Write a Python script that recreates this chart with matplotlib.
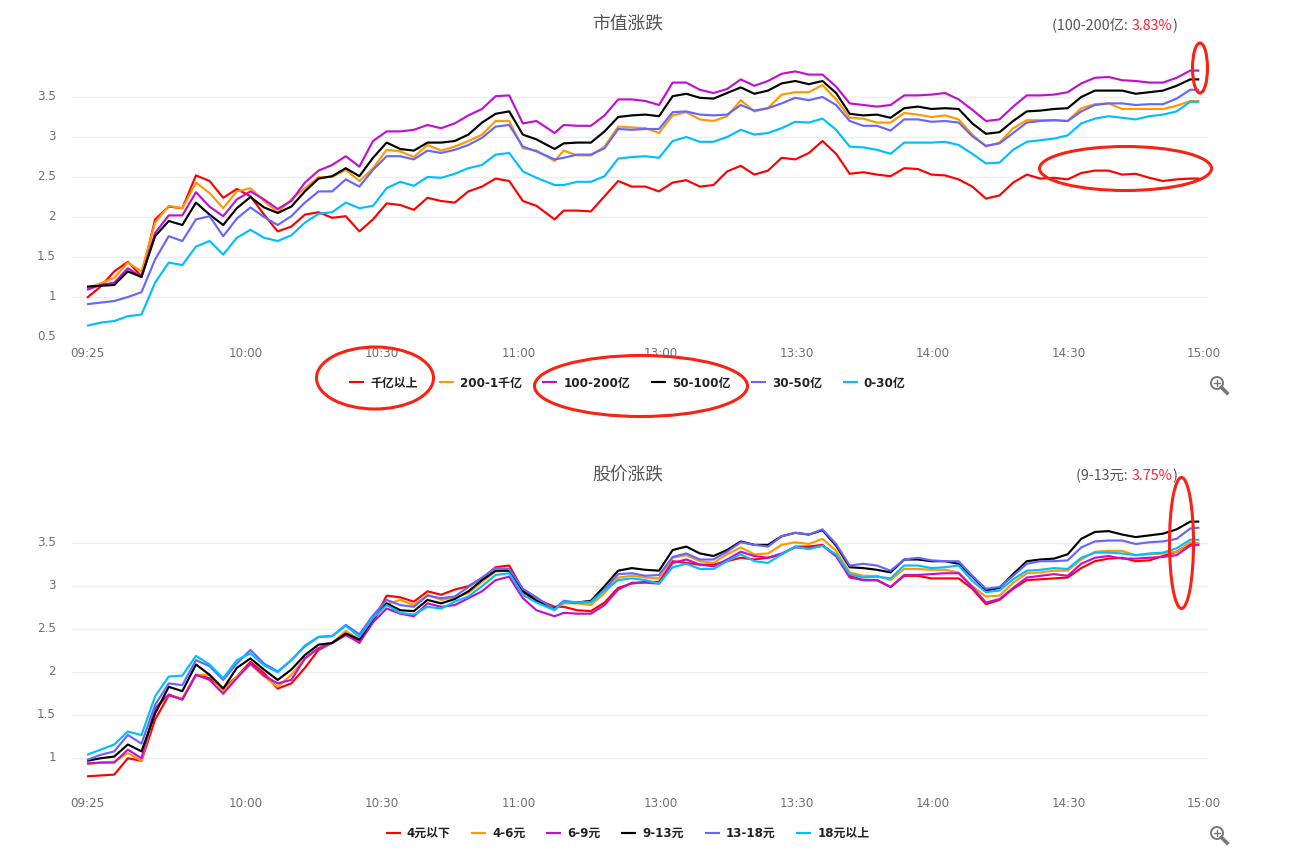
import matplotlib
matplotlib.use("Agg")
import matplotlib.pyplot as plt
from matplotlib.font_manager import FontProperties
from matplotlib.patches import Ellipse, Circle
from matplotlib.lines import Line2D
from matplotlib.transforms import ScaledTranslation

plt.rcParams['font.family'] = ['Noto Sans CJK SC', 'DejaVu Sans']

W, H = 1290, 857

# sample positions along the trading-minute axis
idx = list(range(0, 100, 3)) + [103] + list(range(105, 244, 3)) + [245]
tick_idx = [0, 35, 65, 95, 126.4, 156.4, 186.3, 216.3, 246]
tick_labels = ['09:25', '10:00', '10:30', '11:00', '13:00', '13:30', '14:00', '14:30', '15:00']
colors = ['#ff0000', '#ff9900', '#bf12d0', '#000000', '#6666ff', '#00bfff']

cap_names = ['千亿以上', '200-1千亿', '100-200亿', '50-100亿', '30-50亿', '0-30亿']
cap_red = [0.99,1.13,1.32,1.44,1.26,1.97,2.13,2.11,2.52,2.45,2.24,2.35,2.26,2.03,1.82,1.88,2.03,2.06,1.99,2.01,1.82,1.97,2.17,2.15,2.09,2.24,
 2.20,2.18,2.32,2.38,2.48,2.45,2.20,2.14,1.97,2.08,2.08,2.07,2.26,2.45,2.38,2.38,2.32,2.43,2.46,2.38,2.40,2.57,2.64,2.53,2.58,2.74,2.72,2.80,2.95,
 2.79,2.54,2.56,2.53,2.51,2.61,2.60,2.53,2.52,2.47,2.38,2.23,2.27,2.43,2.53,2.48,2.49,2.47,2.55,2.58,2.58,2.53,2.54,2.49,2.45,2.47,2.48,2.48]
cap_orange = [1.11,1.17,1.24,1.43,1.32,1.93,2.14,2.11,2.43,2.30,2.11,2.32,2.36,2.20,2.06,2.22,2.36,2.50,2.50,2.59,2.45,2.61,2.84,2.82,2.75,2.90,
 2.83,2.88,2.95,3.03,3.20,3.20,2.86,2.83,2.70,2.83,2.77,2.77,2.88,3.13,3.12,3.11,3.05,3.27,3.31,3.22,3.20,3.26,3.46,3.32,3.36,3.53,3.56,3.56,3.65,
 3.47,3.24,3.23,3.18,3.18,3.30,3.28,3.25,3.27,3.22,3.03,2.88,2.93,3.11,3.21,3.21,3.21,3.20,3.36,3.41,3.42,3.35,3.35,3.35,3.35,3.39,3.45,3.45]
cap_purple = [1.09,1.15,1.18,1.36,1.25,1.80,2.02,2.02,2.31,2.13,2.01,2.22,2.32,2.22,2.10,2.20,2.43,2.58,2.65,2.76,2.63,2.95,3.07,3.07,3.09,3.15,
 3.11,3.17,3.27,3.35,3.51,3.52,3.17,3.20,3.05,3.15,3.14,3.14,3.27,3.47,3.47,3.45,3.40,3.68,3.68,3.59,3.55,3.60,3.72,3.64,3.70,3.79,3.82,3.78,3.78,
 3.63,3.42,3.40,3.38,3.40,3.52,3.52,3.53,3.55,3.47,3.34,3.20,3.22,3.38,3.52,3.52,3.53,3.56,3.67,3.74,3.75,3.71,3.70,3.68,3.68,3.74,3.83,3.83]
cap_black = [1.13,1.14,1.15,1.32,1.25,1.76,1.95,1.90,2.18,2.03,1.90,2.11,2.25,2.12,2.05,2.13,2.32,2.48,2.51,2.61,2.51,2.74,2.93,2.85,2.83,2.93,
 2.93,2.95,3.03,3.18,3.29,3.32,3.03,2.97,2.85,2.92,2.93,2.93,3.07,3.25,3.27,3.28,3.26,3.51,3.54,3.49,3.48,3.55,3.62,3.54,3.58,3.67,3.70,3.66,3.70,
 3.55,3.29,3.27,3.28,3.24,3.36,3.38,3.35,3.36,3.35,3.17,3.04,3.06,3.20,3.32,3.33,3.35,3.36,3.50,3.58,3.58,3.58,3.54,3.56,3.58,3.64,3.72,3.72]
cap_blue = [0.91,0.93,0.95,1.00,1.06,1.47,1.76,1.70,1.97,2.01,1.76,1.98,2.12,2.00,1.90,2.01,2.18,2.32,2.32,2.47,2.38,2.59,2.76,2.76,2.72,2.83,
 2.80,2.84,2.90,2.99,3.13,3.15,2.88,2.82,2.72,2.74,2.78,2.78,2.86,3.10,3.09,3.10,3.10,3.31,3.32,3.28,3.27,3.28,3.40,3.33,3.36,3.42,3.49,3.46,3.50,
 3.40,3.20,3.14,3.14,3.08,3.22,3.22,3.19,3.20,3.18,3.01,2.89,2.92,3.05,3.18,3.20,3.21,3.20,3.32,3.40,3.42,3.42,3.40,3.41,3.41,3.48,3.59,3.59]
cap_cyan = [0.64,0.68,0.70,0.76,0.78,1.18,1.43,1.40,1.63,1.70,1.53,1.74,1.84,1.74,1.70,1.77,1.93,2.04,2.06,2.18,2.11,2.14,2.36,2.44,2.39,2.50,
 2.49,2.54,2.61,2.65,2.78,2.80,2.57,2.49,2.40,2.40,2.44,2.44,2.51,2.73,2.75,2.76,2.74,2.95,3.00,2.94,2.94,3.00,3.09,3.03,3.05,3.11,3.19,3.18,3.23,
 3.09,2.88,2.87,2.84,2.79,2.93,2.93,2.93,2.94,2.90,2.79,2.67,2.68,2.84,2.94,2.96,2.98,3.02,3.17,3.23,3.26,3.24,3.22,3.26,3.28,3.32,3.44,3.44]

px_names = ['4元以下', '4-6元', '6-9元', '9-13元', '13-18元', '18元以上']
px_red = [0.79,0.80,0.81,1.00,0.97,1.45,1.73,1.69,1.97,1.93,1.81,1.95,2.12,1.99,1.81,1.87,2.05,2.26,2.34,2.43,2.36,2.59,2.89,2.87,2.82,2.94,
 2.90,2.96,3.00,3.09,3.22,3.24,2.96,2.85,2.76,2.76,2.72,2.71,2.81,2.98,3.03,3.05,3.05,3.29,3.27,3.25,3.25,3.29,3.33,3.31,3.33,3.37,3.46,3.46,3.48,
 3.35,3.12,3.07,3.07,2.99,3.12,3.12,3.09,3.09,3.09,2.97,2.79,2.84,2.97,3.07,3.08,3.09,3.10,3.21,3.29,3.32,3.33,3.29,3.30,3.35,3.40,3.49,3.49]
px_orange = [0.93,0.95,0.96,1.06,0.97,1.56,1.74,1.69,1.97,1.97,1.78,1.95,2.09,1.95,1.83,1.97,2.16,2.28,2.34,2.48,2.38,2.65,2.79,2.84,2.78,2.90,
 2.84,2.87,2.92,3.05,3.17,3.18,2.92,2.84,2.74,2.80,2.80,2.78,2.92,3.10,3.12,3.10,3.09,3.33,3.36,3.29,3.27,3.37,3.45,3.37,3.38,3.48,3.51,3.49,3.55,
 3.41,3.16,3.12,3.12,3.07,3.20,3.20,3.19,3.19,3.16,3.00,2.88,2.89,3.04,3.15,3.16,3.18,3.18,3.31,3.40,3.41,3.41,3.36,3.37,3.38,3.40,3.51,3.50]
px_purple = [0.94,0.95,0.95,1.10,1.00,1.58,1.74,1.68,1.97,1.91,1.75,1.93,2.10,1.96,1.87,1.91,2.16,2.28,2.34,2.44,2.34,2.58,2.74,2.68,2.65,2.80,
 2.76,2.78,2.86,2.94,3.07,3.11,2.86,2.72,2.65,2.69,2.68,2.68,2.78,2.96,3.04,3.04,3.03,3.27,3.31,3.25,3.23,3.31,3.40,3.35,3.33,3.38,3.45,3.44,3.47,
 3.35,3.10,3.07,3.07,2.99,3.13,3.13,3.14,3.15,3.15,2.99,2.81,2.85,2.98,3.10,3.12,3.14,3.12,3.26,3.33,3.35,3.32,3.32,3.33,3.34,3.36,3.47,3.48]
px_black = [0.97,1.00,1.02,1.16,1.08,1.52,1.83,1.78,2.09,1.97,1.81,2.05,2.16,2.03,1.91,2.03,2.20,2.32,2.34,2.45,2.38,2.62,2.80,2.72,2.71,2.84,
 2.80,2.85,2.94,3.07,3.18,3.18,2.94,2.83,2.74,2.82,2.81,2.83,3.00,3.18,3.21,3.19,3.18,3.42,3.46,3.38,3.35,3.42,3.52,3.48,3.48,3.58,3.62,3.60,3.65,
 3.47,3.22,3.21,3.19,3.16,3.31,3.31,3.29,3.29,3.26,3.11,2.95,2.98,3.14,3.29,3.31,3.32,3.37,3.55,3.63,3.64,3.60,3.57,3.59,3.61,3.66,3.75,3.75]
px_blue = [0.98,1.04,1.08,1.27,1.17,1.62,1.87,1.85,2.14,2.07,1.91,2.10,2.26,2.10,2.01,2.14,2.30,2.41,2.42,2.55,2.44,2.66,2.84,2.78,2.76,2.89,
 2.86,2.88,2.99,3.10,3.21,3.20,2.97,2.87,2.73,2.83,2.81,2.82,2.96,3.14,3.15,3.12,3.13,3.34,3.38,3.31,3.31,3.40,3.51,3.48,3.46,3.58,3.62,3.60,3.66,
 3.49,3.24,3.26,3.24,3.18,3.31,3.33,3.30,3.29,3.29,3.12,2.97,2.99,3.12,3.26,3.29,3.29,3.30,3.45,3.52,3.53,3.53,3.49,3.51,3.52,3.55,3.67,3.68]
px_cyan = [1.04,1.10,1.16,1.31,1.27,1.72,1.95,1.96,2.19,2.09,1.93,2.14,2.22,2.08,2.00,2.14,2.31,2.41,2.42,2.54,2.41,2.63,2.78,2.69,2.67,2.76,
 2.74,2.82,2.88,3.00,3.13,3.15,2.90,2.81,2.72,2.82,2.81,2.81,2.95,3.07,3.09,3.07,3.03,3.22,3.26,3.20,3.20,3.29,3.37,3.29,3.27,3.37,3.46,3.43,3.47,
 3.37,3.14,3.10,3.11,3.09,3.24,3.24,3.21,3.22,3.24,3.06,2.93,2.95,3.08,3.18,3.19,3.21,3.20,3.33,3.39,3.39,3.38,3.36,3.38,3.39,3.44,3.54,3.54]

cap_series = [cap_red, cap_orange, cap_purple, cap_black, cap_blue, cap_cyan]
px_series = [px_red, px_orange, px_purple, px_black, px_blue, px_cyan]

fig = plt.figure(figsize=(W / 100, H / 100), dpi=100, facecolor='white')


def make_axes(top_px, bottom_px):
    return fig.add_axes([72 / W, 1 - bottom_px / H, (1208 - 72) / W, (bottom_px - top_px) / H])


def draw(ax, series, names, ylim, yticks, ytlabels, legend_y):
    handles = []
    for vals, name, c in zip(series, names, colors):
        h, = ax.plot(idx, vals, color=c, lw=1.55, solid_joinstyle='round', solid_capstyle='butt', label=name)
        handles.append(h)
    ax.set_xlim((72 - 87) / 4.54, (1208 - 87) / 4.54)
    ax.set_ylim(*ylim)
    ax.set_yticks(yticks)
    ax.set_yticklabels(ytlabels)
    ax.set_xticks(tick_idx)
    ax.set_xticklabels(tick_labels)
    ax.grid(axis='y', color='#eeeeee', lw=1)
    ax.set_axisbelow(True)
    for s in ax.spines.values():
        s.set_visible(False)
    ax.tick_params(axis='both', length=0, labelsize=8.6, labelcolor='#707070')
    ax.tick_params(axis='y', pad=11.5)
    ax.tick_params(axis='x', pad=7.5)
    lift = ScaledTranslation(0, 2 / 100, fig.dpi_scale_trans)
    for lab in ax.get_yticklabels():
        lab.set_family(['DejaVu Sans'])
        lab.set_transform(lab.get_transform() + lift)
    for lab in ax.get_xticklabels():
        lab.set_family(['DejaVu Sans'])
    prop = FontProperties(family=['DejaVu Sans', 'Noto Sans CJK SC'], weight='bold', size=8.6)
    leg = fig.legend(handles=handles, ncol=6, loc='center', bbox_to_anchor=(627.5 / W, 1 - legend_y / H),
                     frameon=False, handlelength=1.25, handletextpad=0.5,
                     columnspacing=1.75, borderpad=0, borderaxespad=0, prop=prop)
    for t in leg.get_texts():
        t.set_color('#222222')


ax1 = make_axes(57, 337)
draw(ax1, cap_series, cap_names, (0.5, 4.0), [0.5, 1, 1.5, 2, 2.5, 3, 3.5],
     ['0.5', '1', '1.5', '2', '2.5', '3', '3.5'], 383)
ax2 = make_axes(507, 787)
draw(ax2, px_series, px_names, (0.666, 3.92), [1, 1.5, 2, 2.5, 3, 3.5],
     ['1', '1.5', '2', '2.5', '3', '3.5'], 833.5)

# overlay in pixel coordinates for titles, hand-drawn marks and icons
ov = fig.add_axes([0, 0, 1, 1], facecolor='none')
ov.set_xlim(0, W)
ov.set_ylim(H, 0)
ov.axis('off')

ov.text(628, 24, '市值涨跌', ha='center', va='center', fontsize=12.8, color='#555555')
ov.text(628, 474, '股价涨跌', ha='center', va='center', fontsize=12.8, color='#555555')


def status(right_x, y, a, b, c):
    fig.canvas.draw()
    r = fig.canvas.get_renderer()
    t3 = ov.text(right_x, y, c, ha='right', va='center', fontsize=10.3, color='#555555')
    x = t3.get_window_extent(r).x0
    t2 = ov.text(x, y, b, ha='right', va='center', fontsize=10.3, color='#ff2030')
    x = t2.get_window_extent(r).x0
    ov.text(x, y, a, ha='right', va='center', fontsize=10.3, color='#555555')


status(1177, 26, '(100-200亿: ', '3.83%', ')')
status(1177, 476, '(9-13元: ', '3.75%', ')')

ring_color = '#fb2113'
for cx, cy, w, h in [(375, 378, 117, 62), (641, 386, 213, 61), (1200, 68, 15, 50),
                     (1125.5, 168.5, 172, 44), (1181.5, 543, 24, 131)]:
    ov.add_patch(Ellipse((cx, cy), w, h, fill=False, ec=ring_color, lw=2.2))

for cx, cy in [(1217, 383), (1217, 833)]:
    ov.add_patch(Circle((cx, cy), 6, fill=False, ec='#777777', lw=1.4))
    ov.add_line(Line2D([cx + 4.5, cx + 10], [cy + 4.5, cy + 10], color='#777777', lw=2.6))
    ov.add_line(Line2D([cx - 3, cx + 3], [cy, cy], color='#777777', lw=1))
    ov.add_line(Line2D([cx, cx], [cy - 3, cy + 3], color='#777777', lw=1))

fig.savefig('out.png', dpi=100, facecolor='white')
